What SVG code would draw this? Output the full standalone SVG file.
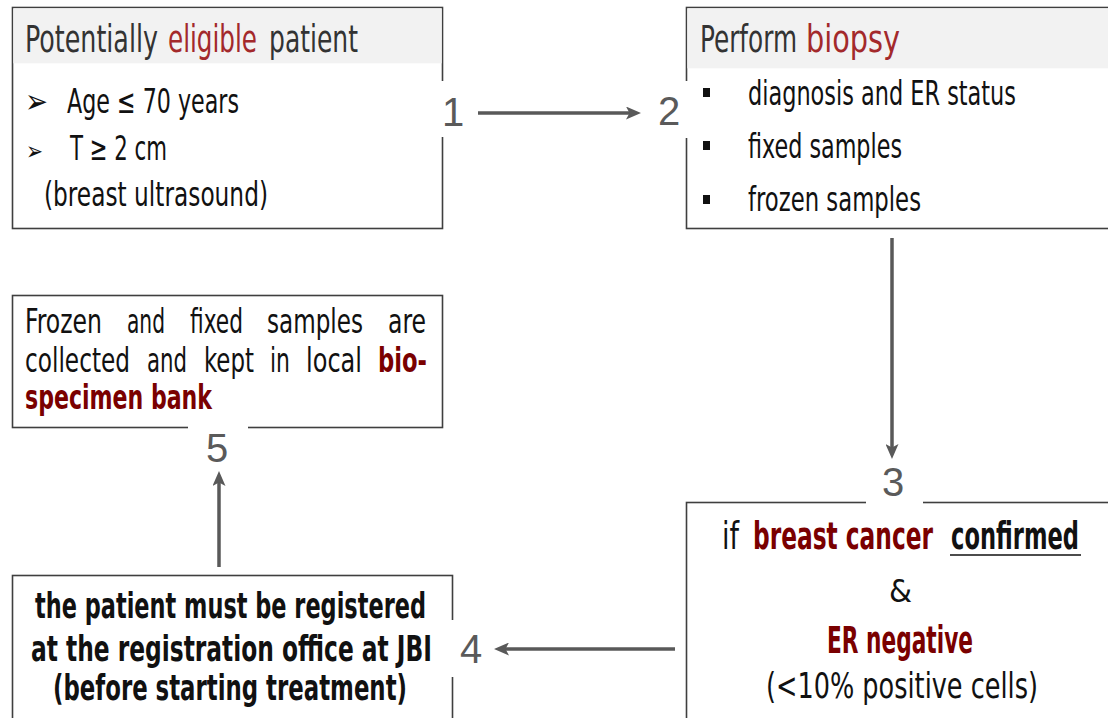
<svg xmlns="http://www.w3.org/2000/svg" width="1108" height="718" viewBox="0 0 1108 718">
  <style>
    .box { fill: #ffffff; stroke: #3f3f3f; stroke-width: 1.6; }
    .band { fill: #f2f2f2; stroke: none; }
    .cut { stroke: #ffffff; stroke-width: 4; }
    .t { font-family: "Liberation Sans Narrow", "DejaVu Sans Condensed", "Liberation Sans", sans-serif; fill: #111111; }
    .hd { font-size: 37px; fill: #333333; }
    .it { font-size: 34px; }
    .bd { font-weight: bold; }
    .red { fill: #a3292b; }
    .dred { fill: #7a0000; font-weight: bold; }
    .num { font-family: "Liberation Sans", Arial, sans-serif; font-size: 40px; fill: #5a5a5a; text-anchor: middle; }
    .sym { font-family: "DejaVu Sans", sans-serif; fill: #111111; font-weight: bold; }
    .conn { stroke: #595959; stroke-width: 3.5; fill: none; marker-end: url(#head); }
  </style>
  <defs>
    <marker id="head" viewBox="0 0 15 13" refX="6" refY="6.5" markerWidth="15" markerHeight="13" markerUnits="userSpaceOnUse" orient="auto">
      <path d="M0,0 L15,6.5 L0,13 L3.5,6.5 z" fill="#595959"/>
    </marker>
  </defs>
  <rect width="1108" height="718" fill="#ffffff"/>

  <!-- step 1: eligibility -->
  <g id="node-eligible">
    <rect class="box" x="12.5" y="7.5" width="430" height="221"/>
    <rect class="band" x="13.3" y="8.3" width="428.4" height="55"/>
    <line class="cut" x1="442.5" y1="81" x2="442.5" y2="137"/>
    <text class="t hd" x="25" y="52" textLength="133" lengthAdjust="spacingAndGlyphs">Potentially</text>
    <text class="t hd red" x="168" y="52" textLength="89" lengthAdjust="spacingAndGlyphs">eligible</text>
    <text class="t hd" x="269" y="52" textLength="89" lengthAdjust="spacingAndGlyphs">patient</text>
    <text class="sym" x="25" y="113" font-size="34" textLength="23" lengthAdjust="spacingAndGlyphs">➢</text>
    <text class="t it" x="67" y="113" textLength="172" lengthAdjust="spacingAndGlyphs">Age ≤ 70 years</text>
    <text class="sym" x="26" y="160" font-size="26" textLength="17" lengthAdjust="spacingAndGlyphs">➢</text>
    <text class="t it" x="70" y="160" textLength="97" lengthAdjust="spacingAndGlyphs">T ≥ 2 cm</text>
    <text class="t it" x="44" y="206" textLength="224" lengthAdjust="spacingAndGlyphs">(breast ultrasound)</text>
  </g>

  <!-- step 2: biopsy -->
  <g id="node-biopsy">
    <rect class="box" x="686.5" y="7.5" width="440" height="221"/>
    <rect class="band" x="687.3" y="8.3" width="430" height="60"/>
    <line class="cut" x1="686.5" y1="81" x2="686.5" y2="138"/>
    <text class="t hd" x="700" y="52" textLength="97" lengthAdjust="spacingAndGlyphs">Perform</text>
    <text class="t hd red" x="806" y="52" textLength="94" lengthAdjust="spacingAndGlyphs">biopsy</text>
    <rect x="703" y="88" width="7" height="9" fill="#111111"/>
    <text class="t it" x="748" y="105" textLength="268" lengthAdjust="spacingAndGlyphs">diagnosis and ER status</text>
    <rect x="703" y="141" width="7" height="9" fill="#111111"/>
    <text class="t it" x="748" y="158" textLength="154" lengthAdjust="spacingAndGlyphs">fixed samples</text>
    <rect x="703" y="195" width="7" height="9" fill="#111111"/>
    <text class="t it" x="748" y="211" textLength="173" lengthAdjust="spacingAndGlyphs">frozen samples</text>
  </g>

  <!-- step 3: confirmation -->
  <g id="node-confirm">
    <rect class="box" x="686.5" y="502.5" width="440" height="230"/>
    <line class="cut" x1="866" y1="502.5" x2="923" y2="502.5"/>
    <text class="t" x="722" y="549" font-size="37" textLength="17" lengthAdjust="spacingAndGlyphs">if</text>
    <text class="t dred" x="753" y="549" font-size="37" textLength="180" lengthAdjust="spacingAndGlyphs">breast cancer</text>
    <text class="t bd" x="951" y="549" font-size="37" textLength="128" lengthAdjust="spacingAndGlyphs">confirmed</text>
    <line x1="950" y1="555" x2="1081" y2="555" stroke="#111111" stroke-width="1.6"/>
    <text class="t" x="889" y="602" font-size="32" textLength="23" lengthAdjust="spacingAndGlyphs">&amp;</text>
    <text class="t dred" x="827" y="653" font-size="37" textLength="146" lengthAdjust="spacingAndGlyphs">ER negative</text>
    <text class="t" x="766" y="698" font-size="35" textLength="272" lengthAdjust="spacingAndGlyphs">(&lt;10%  positive  cells)</text>
  </g>

  <!-- step 4: registration -->
  <g id="node-register">
    <rect class="box" x="12.5" y="575.5" width="440" height="160"/>
    <line class="cut" x1="452.5" y1="620" x2="452.5" y2="677"/>
    <text class="t bd" x="35" y="618" font-size="36" textLength="391" lengthAdjust="spacingAndGlyphs">the patient must be registered</text>
    <text class="t bd" x="31" y="661" font-size="36" textLength="401" lengthAdjust="spacingAndGlyphs">at the registration office at JBI</text>
    <text class="t bd" x="53" y="700" font-size="36" textLength="354" lengthAdjust="spacingAndGlyphs">(before starting treatment)</text>
  </g>

  <!-- step 5: biobank -->
  <g id="node-biobank">
    <rect class="box" x="12.5" y="295.5" width="430" height="132"/>
    <line class="cut" x1="188" y1="427.5" x2="248" y2="427.5"/>
    <text class="t it" x="25" y="333" textLength="77" lengthAdjust="spacingAndGlyphs">Frozen</text>
    <text class="t it" x="127" y="333" textLength="38" lengthAdjust="spacingAndGlyphs">and</text>
    <text class="t it" x="190" y="333" textLength="53" lengthAdjust="spacingAndGlyphs">fixed</text>
    <text class="t it" x="267" y="333" textLength="96" lengthAdjust="spacingAndGlyphs">samples</text>
    <text class="t it" x="388" y="333" textLength="38" lengthAdjust="spacingAndGlyphs">are</text>
    <text class="t it" x="25" y="372" textLength="105" lengthAdjust="spacingAndGlyphs">collected</text>
    <text class="t it" x="147" y="372" textLength="40" lengthAdjust="spacingAndGlyphs">and</text>
    <text class="t it" x="204" y="372" textLength="50" lengthAdjust="spacingAndGlyphs">kept</text>
    <text class="t it" x="270" y="372" textLength="20" lengthAdjust="spacingAndGlyphs">in</text>
    <text class="t it" x="306" y="372" textLength="56" lengthAdjust="spacingAndGlyphs">local</text>
    <text class="t it dred" x="378" y="372" textLength="49" lengthAdjust="spacingAndGlyphs">bio-</text>
    <text class="t it dred" x="25" y="409" textLength="187" lengthAdjust="spacingAndGlyphs">specimen bank</text>
  </g>

  <!-- connectors and step numbers -->
  <g id="connectors">
    <line class="conn" x1="478" y1="113" x2="632" y2="113"/>
    <line class="conn" x1="892" y1="238" x2="892" y2="450"/>
    <line class="conn" x1="675" y1="649" x2="503" y2="649"/>
    <line class="conn" x1="219" y1="567" x2="219" y2="480"/>
    <text class="num" x="453" y="126">1</text>
    <text class="num" x="669" y="125">2</text>
    <text class="num" x="893" y="496">3</text>
    <text class="num" x="471" y="663">4</text>
    <text class="num" x="217" y="462">5</text>
  </g>
</svg>
